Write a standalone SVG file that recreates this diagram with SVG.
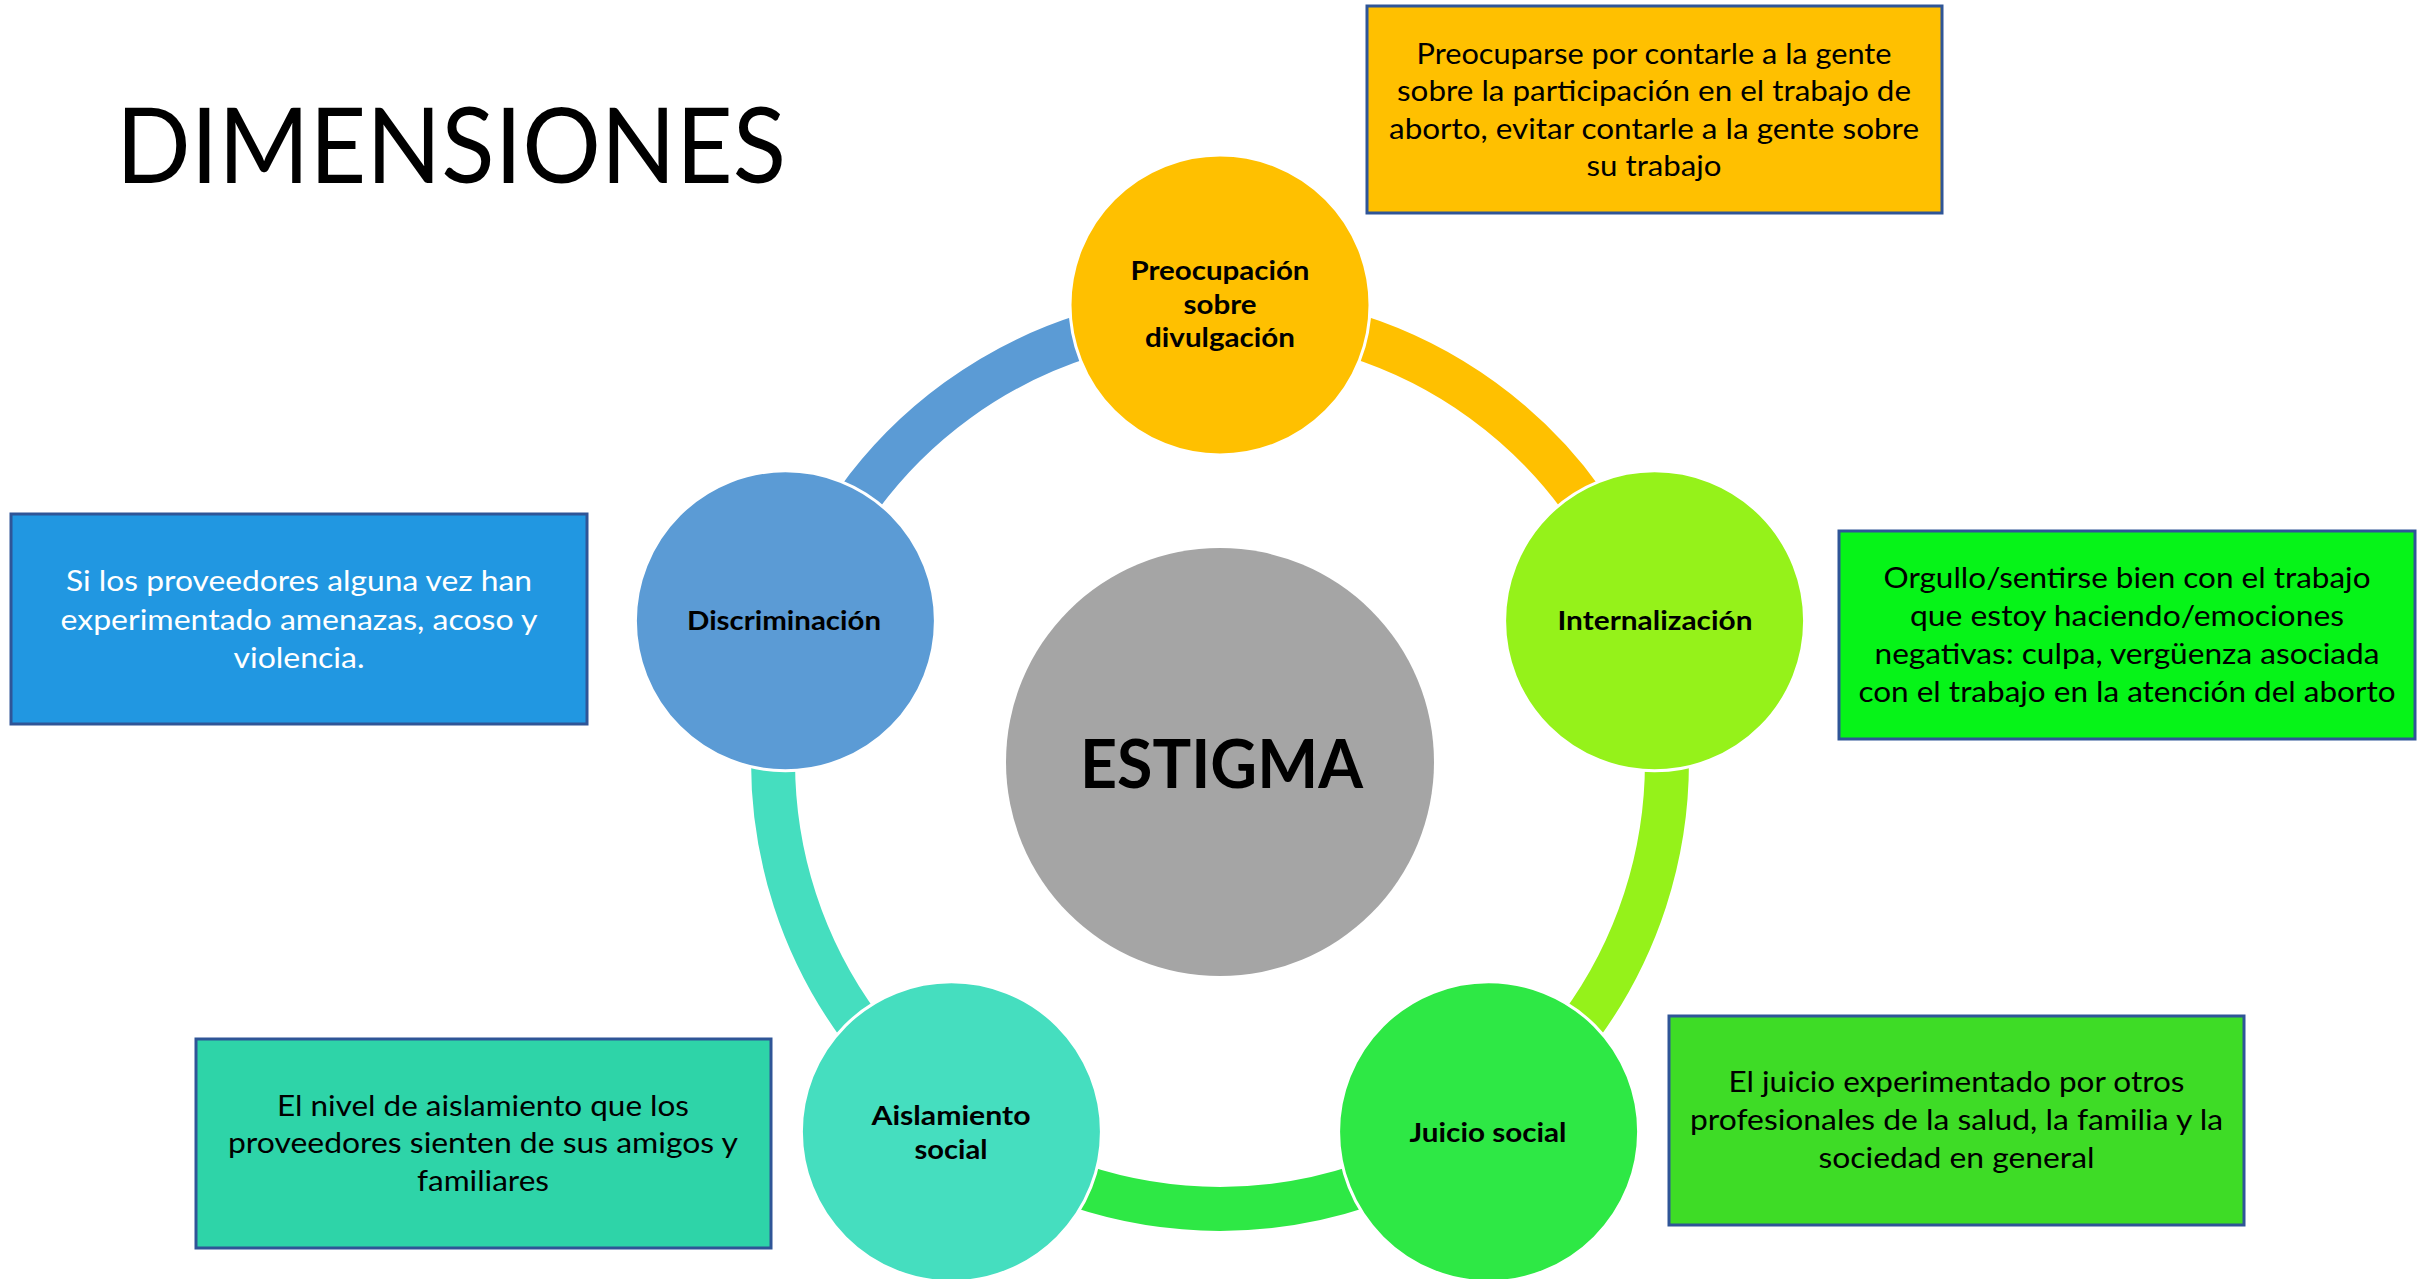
<svg xmlns="http://www.w3.org/2000/svg" width="2420" height="1279" viewBox="0 0 2420 1279">
<style>
.bg{fill:#FFFFFF}
.arc{fill:none;stroke-width:44;stroke-linecap:butt}
.node{stroke:#FFFFFF;stroke-width:3}
.box{stroke:#2F5597;stroke-width:3}
.lbl{font-family:Lato,"Open Sans","Liberation Sans",sans-serif;font-weight:700;font-size:26px;fill:#000000}
.desc{font-family:Lato,"Open Sans","Liberation Sans",sans-serif;font-weight:400;font-size:28px;fill:#000000}
.white{fill:#FFFFFF}
.title{font-family:Lato,"Open Sans","Liberation Sans",sans-serif;font-weight:400;font-size:104px;fill:#000000}
.core{font-family:Lato,"Open Sans","Liberation Sans",sans-serif;font-weight:700;font-size:67px;fill:#000000}
</style>
<rect class="bg" x="0" y="0" width="2420" height="1279"/>
<g id="title">
<text class="title" x="116" y="183" textLength="670" lengthAdjust="spacingAndGlyphs">DIMENSIONES</text>
</g>
<g id="connectors">
<path class="arc" stroke="#FFC000" d="M1220 315 A447 447 0 0 1 1645.1 623.9"/>
<path class="arc" stroke="#95F21A" d="M1645.1 623.9 A447 447 0 0 1 1482.7 1123.6"/>
<path class="arc" stroke="#2EE845" d="M1482.7 1123.6 A447 447 0 0 1 957.3 1123.6"/>
<path class="arc" stroke="#45DEBF" d="M957.3 1123.6 A447 447 0 0 1 794.9 623.9"/>
<path class="arc" stroke="#5B9BD5" d="M794.9 623.9 A447 447 0 0 1 1220 315"/>
</g>
<g id="estigma">
<circle cx="1220" cy="762" r="214" fill="#A5A5A5"/>
<text class="core" x="1080" y="788" textLength="283" lengthAdjust="spacingAndGlyphs">ESTIGMA</text>
</g>
<g id="node-divulgacion">
<circle class="node" cx="1220" cy="305" r="150" fill="#FFC000"/>
<text class="lbl" x="1130.5" y="280" textLength="179" lengthAdjust="spacingAndGlyphs">Preocupación</text>
<text class="lbl" x="1183.5" y="314" textLength="73" lengthAdjust="spacingAndGlyphs">sobre</text>
<text class="lbl" x="1145" y="347" textLength="150" lengthAdjust="spacingAndGlyphs">divulgación</text>
</g>
<g id="node-internalizacion">
<circle class="node" cx="1654.6" cy="620.8" r="150" fill="#95F21A"/>
<text class="lbl" x="1557.5" y="630" textLength="195" lengthAdjust="spacingAndGlyphs">Internalización</text>
</g>
<g id="node-juicio">
<circle class="node" cx="1488.6" cy="1131.7" r="150" fill="#2EE845"/>
<text class="lbl" x="1409.5" y="1142" textLength="157" lengthAdjust="spacingAndGlyphs">Juicio social</text>
</g>
<g id="node-aislamiento">
<circle class="node" cx="951.4" cy="1131.7" r="150" fill="#45DEBF"/>
<text class="lbl" x="871.5" y="1125" textLength="159" lengthAdjust="spacingAndGlyphs">Aislamiento</text>
<text class="lbl" x="914.5" y="1159" textLength="73" lengthAdjust="spacingAndGlyphs">social</text>
</g>
<g id="node-discriminacion">
<circle class="node" cx="785.4" cy="620.8" r="150" fill="#5B9BD5"/>
<text class="lbl" x="687" y="630" textLength="194" lengthAdjust="spacingAndGlyphs">Discriminación</text>
</g>
<g id="box-divulgacion">
<rect class="box" x="1367" y="6" width="575" height="207" fill="#FFC000"/>
<text class="desc" x="1416.5" y="64" textLength="475" lengthAdjust="spacingAndGlyphs">Preocuparse por contarle a la gente</text>
<text class="desc" x="1397" y="101" textLength="514" lengthAdjust="spacingAndGlyphs">sobre la participación en el trabajo de</text>
<text class="desc" x="1389" y="139" textLength="530" lengthAdjust="spacingAndGlyphs">aborto, evitar contarle a la gente sobre</text>
<text class="desc" x="1586.5" y="176" textLength="135" lengthAdjust="spacingAndGlyphs">su trabajo</text>
</g>
<g id="box-internalizacion">
<rect class="box" x="1839" y="531" width="576" height="208" fill="#06F418"/>
<text class="desc" x="1883.5" y="588" textLength="487" lengthAdjust="spacingAndGlyphs">Orgullo/sentirse bien con el trabajo</text>
<text class="desc" x="1910" y="626" textLength="434" lengthAdjust="spacingAndGlyphs">que estoy haciendo/emociones</text>
<text class="desc" x="1874.5" y="664" textLength="505" lengthAdjust="spacingAndGlyphs">negativas: culpa, vergüenza asociada</text>
<text class="desc" x="1858.5" y="702" textLength="537" lengthAdjust="spacingAndGlyphs">con el trabajo en la atención del aborto</text>
</g>
<g id="box-discriminacion">
<rect class="box" x="11" y="514" width="576" height="210" fill="#2197E1"/>
<text class="desc white" x="66" y="591" textLength="466" lengthAdjust="spacingAndGlyphs">Si los proveedores alguna vez han</text>
<text class="desc white" x="60.5" y="630" textLength="477" lengthAdjust="spacingAndGlyphs">experimentado amenazas, acoso y</text>
<text class="desc white" x="233.5" y="668" textLength="131" lengthAdjust="spacingAndGlyphs">violencia.</text>
</g>
<g id="box-aislamiento">
<rect class="box" x="196" y="1039" width="575" height="209" fill="#2ED4A8"/>
<text class="desc" x="277" y="1116" textLength="412" lengthAdjust="spacingAndGlyphs">El nivel de aislamiento que los</text>
<text class="desc" x="228" y="1153" textLength="510" lengthAdjust="spacingAndGlyphs">proveedores sienten de sus amigos y</text>
<text class="desc" x="417" y="1191" textLength="132" lengthAdjust="spacingAndGlyphs">familiares</text>
</g>
<g id="box-juicio">
<rect class="box" x="1669" y="1016" width="575" height="209" fill="#3EDC26"/>
<text class="desc" x="1728.5" y="1092" textLength="456" lengthAdjust="spacingAndGlyphs">El juicio experimentado por otros</text>
<text class="desc" x="1690" y="1130" textLength="533" lengthAdjust="spacingAndGlyphs">profesionales de la salud, la familia y la</text>
<text class="desc" x="1818.5" y="1168" textLength="276" lengthAdjust="spacingAndGlyphs">sociedad en general</text>
</g>
</svg>
